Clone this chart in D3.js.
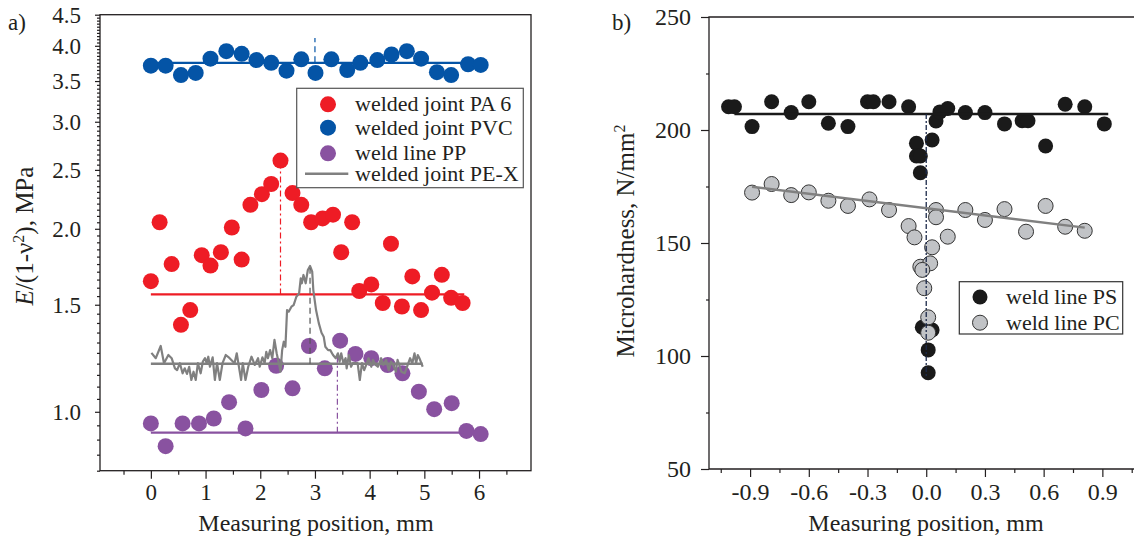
<!DOCTYPE html>
<html>
<head>
<meta charset="utf-8">
<script src="https://cdn.jsdelivr.net/npm/d3@7"></script>
<style>
  body { margin: 0; background: #fff; }
  svg text { font-family: "Liberation Serif", "Times New Roman", serif; fill: #231f20; }
</style>
</head>
<body>
<div id="chart"></div>
<script>
// ---- panel a) values ----
var pa6 = [[0,1.64],[0.16,2.05],[0.38,1.75],[0.55,1.39],[0.72,1.47],[0.93,1.81],[1.09,1.74],[1.28,1.83],
  [1.48,2.01],[1.66,1.78],[1.82,2.19],[2.03,2.28],[2.20,2.37],[2.37,2.59],[2.59,2.29],[2.75,2.19],[2.93,2.05],
  [3.14,2.08],[3.33,2.11],[3.48,1.83],[3.68,2.05],[3.81,1.58],[4.03,1.62],[4.24,1.51],[4.39,1.89],[4.59,1.49],
  [4.78,1.67],[4.94,1.47],[5.14,1.57],[5.32,1.68],[5.49,1.54],[5.70,1.51]];
var pvc = [[0,3.71],[0.27,3.71],[0.55,3.58],[0.82,3.61],[1.09,3.81],[1.38,3.92],[1.66,3.88],[1.93,3.79],
  [2.20,3.75],[2.48,3.64],[2.75,3.80],[3.01,3.61],[3.30,3.80],[3.59,3.65],[3.83,3.75],[4.14,3.79],[4.40,3.87],
  [4.68,3.92],[4.94,3.81],[5.23,3.62],[5.49,3.58],[5.80,3.73],[6.03,3.72]];
var pp = [[0,0.957],[0.27,0.878],[0.58,0.957],[0.88,0.957],[1.15,0.975],[1.43,1.037],[1.73,0.939],[2.02,1.086],
  [2.29,1.19],[2.59,1.093],[2.89,1.283],[3.18,1.179],[3.46,1.309],[3.74,1.245],[4.03,1.225],[4.33,1.194],
  [4.60,1.157],[4.90,1.079],[5.18,1.01],[5.50,1.033],[5.77,0.93],[6.03,0.919]];
var pex = [[0.01,1.250],[0.09,1.225],[0.18,1.283],[0.24,1.202],[0.32,1.240],[0.38,1.225],[0.44,1.179],[0.48,1.171],
  [0.53,1.202],[0.58,1.157],[0.62,1.179],[0.66,1.154],[0.70,1.186],[0.74,1.128],[0.78,1.164],[0.82,1.128],
  [0.86,1.202],[0.91,1.157],[0.95,1.209],[0.99,1.225],[1.02,1.202],[1.05,1.232],[1.08,1.186],[1.13,1.229],
  [1.17,1.128],[1.21,1.202],[1.26,1.128],[1.31,1.202],[1.37,1.240],[1.44,1.225],[1.53,1.202],[1.57,1.248],
  [1.62,1.171],[1.65,1.128],[1.68,1.202],[1.73,1.128],[1.78,1.186],[1.84,1.232],[1.90,1.194],[1.96,1.225],
  [1.99,1.186],[2.04,1.229],[2.08,1.202],[2.11,1.255],[2.14,1.225],[2.18,1.263],[2.22,1.225],[2.26,1.313],
  [2.30,1.248],[2.34,1.202],[2.37,1.164],[2.40,1.263],[2.43,1.304],[2.46,1.279],[2.49,1.470],[2.52,1.461],
  [2.57,1.489],[2.61,1.498],[2.66,1.546],[2.71,1.566],[2.74,1.657],[2.76,1.627],[2.79,1.679],[2.83,1.627],
  [2.87,1.711],[2.91,1.737],[2.95,1.700],[2.97,1.586],[3.02,1.470],[3.07,1.399],[3.12,1.349],[3.16,1.329],
  [3.19,1.279],[3.24,1.263],[3.28,1.263],[3.33,1.240],[3.38,1.225],[3.42,1.248],[3.45,1.209],[3.48,1.248],
  [3.52,1.202],[3.56,1.225],[3.58,1.179],[3.62,1.240],[3.66,1.186],[3.69,1.202],[3.74,1.202],[3.78,1.202],
  [3.82,1.128],[3.86,1.202],[3.90,1.171],[3.95,1.202],[3.98,1.225],[4.03,1.186],[4.06,1.217],[4.11,1.194],
  [4.15,1.186],[4.18,1.202],[4.21,1.225],[4.25,1.194],[4.30,1.217],[4.35,1.171],[4.39,1.209],[4.43,1.194],
  [4.48,1.164],[4.51,1.217],[4.58,1.164],[4.64,1.157],[4.74,1.225],[4.78,1.202],[4.82,1.248],[4.85,1.202],
  [4.88,1.240],[4.91,1.225],[4.97,1.186]];
// mean lines [xStart, xEnd, value] and marker lines [x, from, to]
var pa6Mean = [0, 5.73, 1.56], pvcMean = [0, 5.67, 3.75], ppMean = [0, 5.72, 0.924], pexMean = [0, 4.97, 1.20];
var pa6Mark = [2.37, 1.56, 2.54], pvcMark = [3.0, 3.76, 4.12], pexMark = [2.91, 1.20, 1.72], ppMark = [3.41, 0.924, 1.24];
var aTicksX = [0, 1, 2, 3, 4, 5, 6];
var aMinorX = [-0.5, 0.5, 1.5, 2.5, 3.5, 4.5, 5.5, 6.5];
var aTicksY = [1.0, 1.5, 2.0, 2.5, 3.0, 3.5, 4.0, 4.5];
var aLegend = ["welded joint PA 6", "welded joint PVC", "weld line PP", "welded joint PE-X"];

// ---- panel b) ----
var ps = [[-1.01,210.3],[-0.98,210.3],[-0.89,201.5],[-0.79,212.5],[-0.69,207.7],[-0.60,212.5],[-0.50,203.0],
  [-0.40,201.5],[-0.30,212.5],[-0.27,212.5],[-0.19,212.5],[-0.09,210.3],[-0.05,194.1],[-0.05,188.5],[-0.03,188.5],
  [-0.03,181.1],[0.03,195.6],[0.05,204],[0.07,208],[0.11,209.5],[0.20,207.7],[0.30,207.7],[0.40,202.7],
  [0.49,204.1],[0.52,204.1],[0.61,192.9],[0.71,211.4],[0.81,210.3],[0.91,202.7],[-0.02,112.7],[0.03,111.5],
  [0.01,102.7],[0.01,92.6]];
var pc = [[-0.89,172.3],[-0.79,176.1],[-0.69,171.2],[-0.60,172.4],[-0.50,168.7],[-0.40,166.4],[-0.29,169.3],
  [-0.19,164.6],[-0.09,157.5],[-0.06,152.5],[0.05,164.6],[0.05,161.4],[0.11,152.8],[0.20,164.6],[0.30,160.2],
  [0.40,165.0],[0.51,155.0],[0.61,166.4],[0.71,157.2],[0.81,155.4],[0.03,148.1],[-0.03,139.5],[0.02,141.0],
  [-0.02,138.1],[-0.01,130.0],[0.01,117.1],[0.01,110.3]];
var psMean = [[-0.98, 207.1], [0.93, 207.1]];
var pcFit = [[-0.89, 174.9], [0.81, 156.8]];
var psMark = [0, 207.1, 91];
var bTicksX = [-0.9, -0.6, -0.3, 0.0, 0.3, 0.6, 0.9];
var bMinorX = [-1.05, -0.75, -0.45, -0.15, 0.15, 0.45, 0.75, 1.05];
var bTicksY = [50, 100, 150, 200, 250];
var bMinorY = [75, 125, 175, 225];
var bLegend = ["weld line PS", "weld line PC"];

var ink = "#231f20";
var red = "#ee1c25", blue = "#0454a6", purple = "#8952a0", grey = "#808080";

var svg = d3.select("#chart").append("svg").attr("width", 1134).attr("height", 540);

function drawAxis(g, axis) {
  g.call(axis);
  g.select(".domain").remove();
  g.selectAll("line").attr("stroke", ink).attr("stroke-width", 1.2);
  g.selectAll("text").attr("font-family", "Liberation Serif, serif").attr("fill", ink);
}

// ================= panel a =================
var xA = d3.scaleLinear().domain([-0.93, 6.95]).range([100, 531]);
var yA = d3.scaleLog().domain([0.8, 4.5]).range([470.7, 14.7]);
var a = svg.append("g");

var minorY = d3.range(0.8, 4.501, 0.05).filter(function (v) {
  return Math.abs(v * 2 - Math.round(v * 2)) > 0.01;
});

drawAxis(a.append("g").attr("transform", "translate(0,470.7)"),
  d3.axisBottom(xA).tickValues(aTicksX).tickSize(8).tickPadding(5).tickFormat(d3.format("d")));
drawAxis(a.append("g").attr("transform", "translate(0,470.7)"),
  d3.axisBottom(xA).tickValues(aMinorX).tickSize(4).tickFormat(""));
drawAxis(a.append("g").attr("transform", "translate(100,0)"),
  d3.axisLeft(yA).tickValues(aTicksY).tickSize(5).tickPadding(14).tickFormat(d3.format(".1f")));
drawAxis(a.append("g").attr("transform", "translate(100,0)"),
  d3.axisLeft(yA).tickValues(minorY).tickSize(3).tickFormat(""));
a.selectAll(".tick text").attr("font-size", 23);

a.append("rect").attr("x", 100).attr("y", 14.7).attr("width", 431).attr("height", 456)
  .attr("fill", "none").attr("stroke", ink).attr("stroke-width", 1.3);

function hline(g, m, color, w) {
  g.append("line").attr("x1", xA(m[0])).attr("x2", xA(m[1])).attr("y1", yA(m[2])).attr("y2", yA(m[2]))
    .attr("stroke", color).attr("stroke-width", w);
}
function vline(g, m, color, dash) {
  g.append("line").attr("x1", xA(m[0])).attr("x2", xA(m[0])).attr("y1", yA(m[1])).attr("y2", yA(m[2]))
    .attr("stroke", color).attr("stroke-width", 1.2).attr("stroke-dasharray", dash);
}
function dots(g, data, color, r) {
  g.selectAll(null).data(data).enter().append("circle")
    .attr("cx", function (d) { return xA(d[0]); })
    .attr("cy", function (d) { return yA(d[1]); })
    .attr("r", r).attr("fill", color);
}

dots(a, pa6, red, 8);
dots(a, pvc, blue, 8);
dots(a, pp, purple, 8);
hline(a, pa6Mean, red, 2.2);
hline(a, pvcMean, blue, 2.2);
hline(a, ppMean, purple, 2.2);
hline(a, pexMean, grey, 2.5);
vline(a, pa6Mark, red, "6,3,2,3");
vline(a, pvcMark, blue, "6,4");
vline(a, ppMark, purple, "6,3,2,3");

a.append("path").datum(pex)
  .attr("d", d3.line().x(function (d) { return xA(d[0]); }).y(function (d) { return yA(d[1]); }))
  .attr("fill", "none").attr("stroke", grey).attr("stroke-width", 2.2).attr("stroke-linejoin", "round");
vline(a, pexMark, "#555", "6,4");

// legend a
var la = a.append("g");
la.append("rect").attr("x", 296.7).attr("y", 88.3).attr("width", 226.6).attr("height", 99.4)
  .attr("fill", "#fff").attr("stroke", "#555").attr("stroke-width", 1.2);
var legY = [104.3, 127.7, 153.3, 173.7];
var legC = [red, blue, purple];
legC.forEach(function (c, i) {
  la.append("circle").attr("cx", 328).attr("cy", legY[i]).attr("r", 8).attr("fill", c);
});
la.append("line").attr("x1", 305).attr("x2", 348.3).attr("y1", legY[3]).attr("y2", legY[3])
  .attr("stroke", grey).attr("stroke-width", 2.5);
aLegend.forEach(function (t, i) {
  la.append("text").attr("x", 355).attr("y", legY[i] + 7).attr("font-size", 22).text(t);
});

a.append("text").attr("x", 8).attr("y", 30).attr("font-size", 23).text("a)");
a.append("text").attr("x", 316).attr("y", 531).attr("text-anchor", "middle").attr("font-size", 24)
  .text("Measuring position, mm");
var ta = a.append("text").attr("transform", "translate(33,236) rotate(-90)")
  .attr("text-anchor", "middle").attr("font-size", 25);
ta.append("tspan").attr("font-style", "italic").text("E");
ta.append("tspan").text("/(1-ν");
ta.append("tspan").attr("dy", -9).attr("font-size", 16).text("2");
ta.append("tspan").attr("dy", 9).text("), MPa");

// ================= panel b =================
var xB = d3.scaleLinear().domain([-1.11, 1.11]).range([709, 709 + 195.7 * 2.22]);
var yB = d3.scaleLinear().domain([50, 250]).range([469, 17]);
var b = svg.append("g");

drawAxis(b.append("g").attr("transform", "translate(0,469)"),
  d3.axisBottom(xB).tickValues(bTicksX).tickSize(8).tickPadding(6)
    .tickFormat(function (d) { return d.toFixed(1); }));
drawAxis(b.append("g").attr("transform", "translate(0,469)"),
  d3.axisBottom(xB).tickValues(bMinorX).tickSize(4).tickFormat(""));
drawAxis(b.append("g").attr("transform", "translate(709,0)"),
  d3.axisLeft(yB).tickValues(bTicksY).tickSize(8).tickPadding(10).tickFormat(d3.format("d")));
drawAxis(b.append("g").attr("transform", "translate(709,0)"),
  d3.axisLeft(yB).tickValues(bMinorY).tickSize(3).tickFormat(""));
b.selectAll(".tick text").attr("font-size", 24);

b.append("path").attr("d", "M1134,17H709V469H1134").attr("fill", "none")
  .attr("stroke", ink).attr("stroke-width", 1.3);

b.selectAll(null).data(ps).enter().append("circle")
  .attr("cx", function (d) { return xB(d[0]); })
  .attr("cy", function (d) { return yB(d[1]); })
  .attr("r", 7.5).attr("fill", "#1a1a1a");
b.selectAll(null).data(pc).enter().append("circle")
  .attr("cx", function (d) { return xB(d[0]); })
  .attr("cy", function (d) { return yB(d[1]); })
  .attr("r", 7.5).attr("fill", "#c1c3c6").attr("stroke", "#333").attr("stroke-width", 1);

var lineB = d3.line().x(function (d) { return xB(d[0]); }).y(function (d) { return yB(d[1]); });
b.append("path").datum(psMean).attr("d", lineB).attr("stroke", "#1a1a1a").attr("stroke-width", 2.5).attr("fill", "none");
b.append("path").datum(pcFit).attr("d", lineB).attr("stroke", grey).attr("stroke-width", 2.5).attr("fill", "none");
b.append("line").attr("x1", xB(psMark[0])).attr("x2", xB(psMark[0]))
  .attr("y1", yB(psMark[1])).attr("y2", yB(psMark[2]))
  .attr("stroke", "#1c2a4a").attr("stroke-width", 1.3).attr("stroke-dasharray", "5,2,2,2");

// legend b
var lb = b.append("g");
lb.append("rect").attr("x", 959.3).attr("y", 281.7).attr("width", 163.4).attr("height", 52.3)
  .attr("fill", "#fff").attr("stroke", "#333").attr("stroke-width", 1.2);
lb.append("circle").attr("cx", 980).attr("cy", 297).attr("r", 7.5).attr("fill", "#1a1a1a");
lb.append("circle").attr("cx", 980).attr("cy", 322.7).attr("r", 7.5).attr("fill", "#c1c3c6")
  .attr("stroke", "#333").attr("stroke-width", 1);
bLegend.forEach(function (t, i) {
  lb.append("text").attr("x", 1006).attr("y", [297, 322.7][i] + 7).attr("font-size", 22).text(t);
});

b.append("text").attr("x", 612).attr("y", 30).attr("font-size", 23).text("b)");
b.append("text").attr("x", 926).attr("y", 531).attr("text-anchor", "middle").attr("font-size", 24)
  .text("Measuring position, mm");
var tb = b.append("text").attr("transform", "translate(634,241) rotate(-90)")
  .attr("text-anchor", "middle").attr("font-size", 25);
tb.append("tspan").text("Microhardness, N/mm");
tb.append("tspan").attr("dy", -9).attr("font-size", 16).text("2");
</script>
</body>
</html>
